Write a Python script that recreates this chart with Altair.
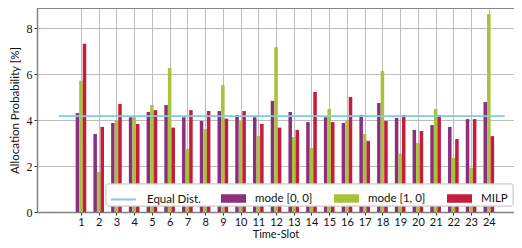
import altair as alt
import pandas as pd

slots = list(range(1, 25))
series_names = ["mode [0, 0]", "mode [1, 0]", "MILP"]
mode00 = [4.30, 3.39, 3.87, 4.12, 4.35, 4.65, 4.12, 3.96, 4.39, 4.22, 4.12, 4.83,
          4.35, 3.91, 4.12, 3.87, 4.22, 4.74, 4.09, 3.57, 3.78, 3.70, 4.04, 4.78]
mode10 = [5.71, 1.74, 3.97, 4.12, 4.65, 6.26, 2.74, 3.61, 5.52, 3.97, 3.30, 7.17,
          3.26, 2.78, 4.48, 3.96, 3.39, 6.13, 2.54, 3.00, 4.48, 2.35, 1.91, 8.61]
milp = [7.32, 3.70, 4.70, 3.83, 4.43, 3.67, 4.43, 4.39, 4.06, 4.39, 3.83, 3.67,
        3.57, 5.22, 3.91, 5.00, 3.09, 3.96, 4.22, 3.52, 4.22, 3.17, 4.04, 3.30]
equal_value = 100 / 24
equal_span = [-0.25, 24.9]
y_ticks = [0, 2, 4, 6, 8]

colors = ["#8C2F7E", "#A9C23C", "#C41D3E"]
line_color = "#86C8DC"
frame = "#808080"
SANS = "Lato"
SERIF = "Liberation Serif"

rows = []
for k, (name, vals) in enumerate(zip(series_names, [mode00, mode10, milp])):
    for s, v in zip(slots, vals):
        rows.append({"slot": s, "series": name, "k": k, "value": v})
df = pd.DataFrame(rows)
eq_df = pd.DataFrame({"x": equal_span, "y": [equal_value] * 2, "name": ["Equal Dist."] * 2})

W, H = 477, 204
xscale = alt.Scale(domain=[-1.48, 25.42], nice=False, zero=False)
yscale = alt.Scale(domain=[0, 8.87], nice=False)

x_axis = alt.Axis(values=slots, grid=True, gridColor="#bdbdbd", gridWidth=1,
                  tickSize=3, tickColor="#333", domainColor=frame, domainWidth=1.5,
                  labelFont=SANS, labelFontSize=11, labelColor="#111",
                  labelPadding=1, labelFlush=False, labelOverlap=False,
                  titleFont=SANS, titleFontSize=11, titleFontWeight="normal",
                  titleColor="#111", titleBaseline="alphabetic", titleY=25.5)
y_axis = alt.Axis(values=y_ticks, grid=True, gridColor="#bdbdbd", gridWidth=1,
                  tickSize=3, tickColor="#333", domainColor=frame, domainWidth=1.5,
                  labelFont=SERIF, labelFontSize=12, labelColor="#111",
                  labelPadding=2, labelOverlap=False,
                  titleFont=SANS, titleFontSize=11.5, titleFontWeight="normal",
                  titleColor="#111", titlePadding=6)

bar_w = 0.2
bars = alt.Chart(df).transform_calculate(
    x0=f"datum.slot + (datum.k - 1) * {bar_w} - {bar_w / 2}",
    x1=f"datum.slot + (datum.k - 1) * {bar_w} + {bar_w / 2}",
).mark_rect().encode(
    x=alt.X("x0:Q", scale=xscale, title="Time-Slot", axis=x_axis),
    x2="x1:Q",
    y=alt.Y("value:Q", scale=yscale, title="Allocation Probability [%]", axis=y_axis),
    y2=alt.datum(0),
    fill=alt.Fill("series:N", scale=alt.Scale(domain=series_names, range=colors),
                  sort=series_names,
                  legend=alt.Legend(orient="none", legendX=184, legendY=178,
                                    direction="horizontal", title=None,
                                    symbolType="M-1,-0.34H1V0.34H-1Z", symbolSize=625,
                                    symbolStrokeWidth=0, labelFont=SANS, labelFontSize=11.5,
                                    labelColor="#111", labelOffset=9, columnPadding=21,
                                    padding=0)),
)

box = alt.Chart(eq_df).mark_rect(fill="white", fillOpacity=0.9, stroke="#cccccc",
                                 strokeWidth=1, cornerRadius=2).encode(
    x=alt.value(69), x2=alt.value(W - 1), y=alt.value(176), y2=alt.value(198))

line = alt.Chart(eq_df).mark_line(strokeWidth=1.8).encode(
    x=alt.X("x:Q", scale=xscale, title="Time-Slot", axis=x_axis),
    y=alt.Y("y:Q", scale=yscale, title="Allocation Probability [%]", axis=y_axis),
    stroke=alt.Stroke("name:N", scale=alt.Scale(domain=["Equal Dist."], range=[line_color]),
                      legend=alt.Legend(orient="none", legendX=73, legendY=178,
                                        direction="horizontal", title=None,
                                        symbolType="stroke", symbolSize=625,
                                        symbolStrokeWidth=2, labelFont=SANS,
                                        labelFontSize=11.5, labelColor="#111",
                                        labelOffset=10, padding=0)),
)

top = alt.Chart(eq_df).mark_rule(color=frame, strokeWidth=1.5).encode(
    x=alt.value(0), x2=alt.value(W), y=alt.value(0))

chart = alt.layer(bars, line, box, top).resolve_legend(fill="independent", stroke="independent").properties(
    width=W, height=H,
    autosize=alt.AutoSizeParams(type="none"),
    padding={"left": 29, "top": 0, "right": 0, "bottom": 28},
    background="white",
).configure_view(stroke=None).configure_axis(labelOverlap=False)

chart.save("out.html", embed_options={"renderer": "svg", "actions": False})
